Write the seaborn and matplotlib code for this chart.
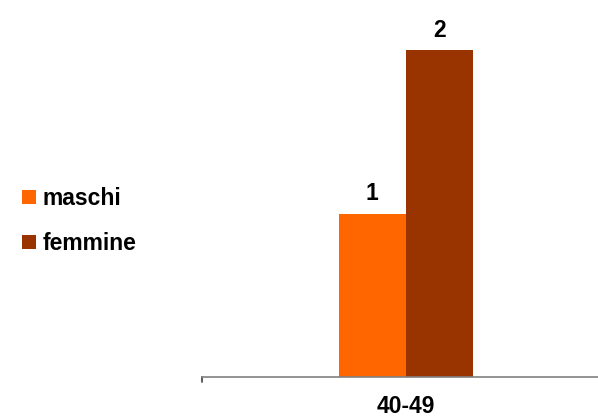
import matplotlib
matplotlib.use("Agg")
import matplotlib.pyplot as plt
import seaborn as sns
import pandas as pd

categories = ["40-49"]
series = ["maschi", "femmine"]
maschi = [1]
femmine = [2]
colors = ["#FF6600", "#993300"]

df = pd.DataFrame({
    "fascia": categories * 2,
    "sesso": ["maschi"] * len(categories) + ["femmine"] * len(categories),
    "valore": maschi + femmine,
})

sns.set_theme(style="white")
plt.rcParams["font.family"] = ["Liberation Sans", "DejaVu Sans"]
plt.rcParams["text.color"] = "black"
plt.rcParams["xtick.color"] = "black"
plt.rcParams["xtick.labelcolor"] = "black"

FS = 16.5

fig = plt.figure(figsize=(5.98, 4.18), dpi=100)
ax = fig.add_axes([202 / 598, 1 - 377 / 418, 396 / 598, 377 / 418])

sns.barplot(data=df, x="fascia", y="valore", hue="sesso", hue_order=series,
            palette=colors, width=0.34, gap=0, ax=ax, saturation=1,
            edgecolor="none", linewidth=0)

for c in ax.containers:
    ax.bar_label(c, fmt="%g", padding=6, fontsize=FS, fontweight="bold", color="black")

ax.set_xlim(-0.515, 0.485)
ax.set_ylim(0, 377 / 163.5)
ax.set_xlabel("")
ax.set_ylabel("")
ax.set_yticks([])
ax.set_xticks([0])
ax.set_xticklabels(categories, fontsize=FS, fontweight="bold", color="black")
ax.tick_params(axis="x", length=0, pad=13)
for s in ["top", "right", "left"]:
    ax.spines[s].set_visible(False)
ax.spines["bottom"].set_color("#808080")
ax.spines["bottom"].set_linewidth(1.2)
# small tick at left edge of baseline
ax.plot([-0.515, -0.515], [0, -0.03], color="#404040", lw=1.2, clip_on=False, transform=ax.transData)

leg = ax.get_legend()
handles, labels = ax.get_legend_handles_labels()
if leg is not None:
    leg.remove()
lg = fig.legend(handles, labels, loc="center left", bbox_to_anchor=(22 / 598, 1 - 221 / 418),
                frameon=False, prop={"size": FS, "weight": "bold"},
                handlelength=0.6, handleheight=0.6, handletextpad=0.3,
                labelspacing=0.95, borderpad=0, borderaxespad=0)
for t in lg.get_texts():
    t.set_color("black")

fig.savefig("out.png", dpi=100)
